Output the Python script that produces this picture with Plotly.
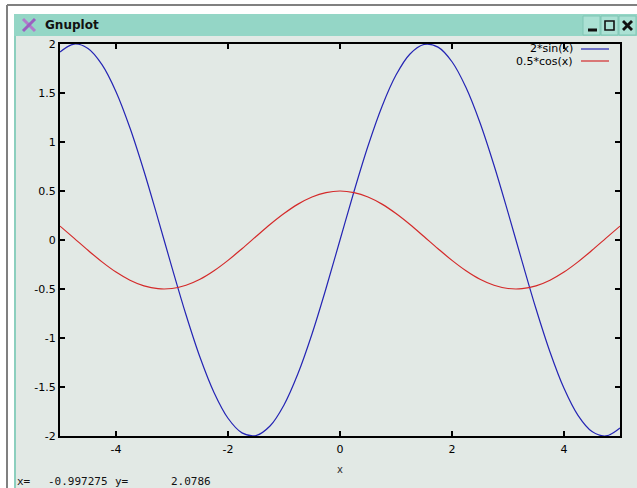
import plotly.graph_objects as go

# ---- data ----
x_vals = [-5, -4.75, -4.5, -4.25, -4, -3.75, -3.5, -3.25, -3, -2.75, -2.5, -2.25, -2,
          -1.75, -1.5, -1.25, -1, -0.75, -0.5, -0.25, 0, 0.25, 0.5, 0.75, 1, 1.25, 1.5,
          1.75, 2, 2.25, 2.5, 2.75, 3, 3.25, 3.5, 3.75, 4, 4.25, 4.5, 4.75, 5]
sin_vals = [1.918, 1.999, 1.955, 1.790, 1.514, 1.143, 0.702, 0.216, -0.282, -0.763, -1.197,
            -1.556, -1.819, -1.968, -1.995, -1.898, -1.683, -1.363, -0.959, -0.495, 0.0,
            0.495, 0.959, 1.363, 1.683, 1.898, 1.995, 1.968, 1.819, 1.556, 1.197, 0.763,
            0.282, -0.216, -0.702, -1.143, -1.514, -1.790, -1.955, -1.999, -1.918]
cos_vals = [0.142, 0.019, -0.105, -0.223, -0.327, -0.410, -0.468, -0.497, -0.495, -0.462,
            -0.401, -0.314, -0.208, -0.089, 0.035, 0.158, 0.270, 0.366, 0.439, 0.484, 0.5,
            0.484, 0.439, 0.366, 0.270, 0.158, 0.035, -0.089, -0.208, -0.314, -0.401,
            -0.462, -0.495, -0.497, -0.468, -0.410, -0.327, -0.223, -0.105, 0.019, 0.142]
series_names = ["2*sin(x)", "0.5*cos(x)"]
series_colors = ["#2424b4", "#d42a2a"]
x_ticks = [-4, -2, 0, 2, 4]
x_ticktext = ["-4", "-2", "0", "2", "4"]
y_ticks = [-2, -1.5, -1, -0.5, 0, 0.5, 1, 1.5, 2]
y_ticktext = ["-2", "-1.5", "-1", "-0.5", "0", "0.5", "1", "1.5", "2"]
window_title = "Gnuplot"
status_parts = ["x=", "-0.997275", "y=", "2.0786"]

W, H = 637, 488
L, R, T, B = 60, 17, 44, 52
PW, PH = W - L - R, H - T - B


def X(px):
    return (px - L) / PW


def Y(py):
    return (H - B - py) / PH


FONT = "DejaVu Sans"
MONO = "DejaVu Sans Mono"

fig = go.Figure()
for name, yv, col in zip(series_names, [sin_vals, cos_vals], series_colors):
    fig.add_trace(go.Scatter(x=x_vals, y=yv, mode="lines", name=name,
                             line=dict(color=col, width=1.2, shape="spline"),
                             showlegend=False, hoverinfo="skip"))

shapes = []


def rect(x0, y0, x1, y1, fill, line=None, lw=0):
    shapes.append(dict(type="rect", xref="paper", yref="paper",
                       x0=X(x0), x1=X(x1), y0=Y(y0), y1=Y(y1),
                       fillcolor=fill, layer="below",
                       line=dict(color=line or fill, width=lw)))


def seg(x0, y0, x1, y1, color, w, layer="below"):
    shapes.append(dict(type="line", xref="paper", yref="paper",
                       x0=X(x0), x1=X(x1), y0=Y(y0), y1=Y(y1), layer=layer,
                       line=dict(color=color, width=w)))


# window body and title bar
rect(14, 14, 640, 492, "#e2e9e5")
rect(14, 14, 640, 36, "#94d6c6")
rect(14, 36, 16, 492, "#8ccfbe")
# outer frame lines
seg(7, 5, 640, 5, "#808080", 2)
seg(7, 5, 7, 492, "#808080", 2)
# title bar buttons
for bx0 in [583, 601, 619]:
    rect(bx0, 16, bx0 + 17, 35, "#abe1d4", "#80c6b5", 1)
seg(588, 30, 597, 30, "#111111", 3)
shapes.append(dict(type="rect", xref="paper", yref="paper", x0=X(605), x1=X(614),
                   y0=Y(21), y1=Y(30), layer="below", line=dict(color="#111111", width=1.6)))
seg(623, 21, 632, 30, "#111111", 2.8)
seg(623, 30, 632, 21, "#111111", 2.8)
# X icon
seg(23, 19, 35, 31, "#b27acb", 3)
seg(23, 31, 35, 19, "#9a5fc0", 3)

# legend samples
leg_y = [49, 61]
for ly, col in zip(leg_y, series_colors):
    seg(581, ly, 609, ly, col, 1.2, layer="above")

annotations = []
for ly, name in zip(leg_y, series_names):
    annotations.append(dict(xref="paper", yref="paper", x=X(575), y=Y(ly), text=name,
                            showarrow=False, xanchor="right", yanchor="middle",
                            font=dict(family=FONT, size=11, color="#000000")))
annotations.append(dict(xref="paper", yref="paper", x=X(43), y=Y(25), text="<b>" + window_title + "</b>",
                        showarrow=False, xanchor="left", yanchor="middle",
                        font=dict(family=FONT, size=12, color="#111111")))
annotations.append(dict(xref="paper", yref="paper", x=0.5, y=Y(469), text="x",
                        showarrow=False, xanchor="center", yanchor="middle",
                        font=dict(family=FONT, size=10, color="#333333")))
for sx, txt in zip([15, 46, 113, 169], status_parts):
    annotations.append(dict(xref="paper", yref="paper", x=X(sx), y=Y(481), text=txt,
                            showarrow=False, xanchor="left", yanchor="middle",
                            font=dict(family=MONO, size=11, color="#111111")))

axis_common = dict(showgrid=False, zeroline=False, showline=True, linecolor="#000000",
                   linewidth=2, mirror="ticks", ticks="inside", ticklen=5, tickwidth=2,
                   tickcolor="#000000", tickfont=dict(family=FONT, size=11, color="#000000"))

fig.update_layout(
    width=W, height=H, autosize=False,
    margin=dict(l=L, r=R, t=T, b=B, pad=0),
    paper_bgcolor="#ffffff", plot_bgcolor="rgba(0,0,0,0)",
    xaxis=dict(range=[-5, 5], tickvals=x_ticks, ticktext=x_ticktext,
               ticklabelstandoff=2, **axis_common),
    yaxis=dict(range=[-2, 2], tickvals=y_ticks, ticktext=y_ticktext, **axis_common),
    shapes=shapes, annotations=annotations, showlegend=False,
)

fig.write_html("out.html")
